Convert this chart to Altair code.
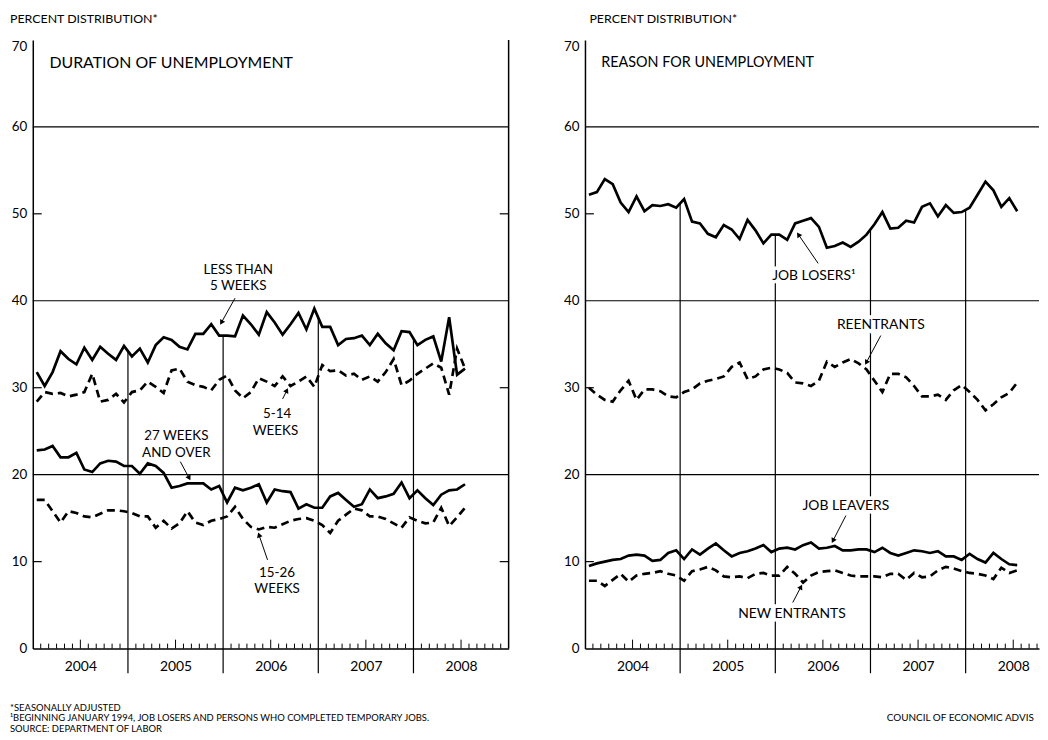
import math
import altair as alt
import pandas as pd

FONT = "Lato"

# ---------------- data (monthly, Jan 2004 - Jul 2008) ----------------
less_than_5 = [31.8, 30.2, 31.8, 34.2, 33.3, 32.7, 34.6, 33.2, 34.7, 33.9, 33.2, 34.8,
               33.6, 34.5, 32.9, 34.9, 35.8, 35.5, 34.7, 34.4, 36.2, 36.2, 37.3, 36.0,
               36.0, 35.9, 38.3, 37.3, 36.1, 38.7, 37.5, 36.1, 37.3, 38.6, 36.7, 39.1,
               37.0, 37.0, 34.9, 35.6, 35.7, 36.0, 34.9, 36.2, 35.1, 34.3, 36.5, 36.4,
               34.9, 35.5, 35.9, 33.0, 38.1, 31.5, 32.2]
weeks_5_14 = [28.4, 29.5, 29.3, 29.4, 29.0, 29.2, 29.5, 31.6, 28.4, 28.6, 29.3, 28.3,
              29.5, 29.7, 30.7, 30.1, 29.4, 32.0, 32.2, 30.7, 30.3, 30.1, 29.7, 30.9,
              31.4, 29.7, 28.8, 29.5, 31.1, 30.7, 30.2, 31.3, 30.2, 30.7, 31.3, 30.1,
              32.6, 31.9, 32.0, 31.4, 31.6, 30.9, 31.3, 30.7, 31.8, 33.3, 30.3, 30.8,
              31.6, 32.2, 32.8, 32.3, 29.2, 34.5, 32.2]
weeks_27_over = [22.8, 22.9, 23.3, 22.0, 22.0, 22.5, 20.6, 20.3, 21.3, 21.6, 21.5, 21.0,
                 21.0, 20.1, 21.3, 21.0, 20.2, 18.5, 18.7, 19.0, 19.0, 19.0, 18.3, 18.7,
                 16.8, 18.5, 18.2, 18.5, 18.9, 16.8, 18.3, 18.1, 18.0, 16.1, 16.6, 16.2,
                 16.2, 17.5, 17.9, 17.1, 16.3, 16.6, 18.3, 17.3, 17.5, 17.8, 19.1, 17.3,
                 18.2, 17.3, 16.5, 17.7, 18.2, 18.3, 18.9]
weeks_15_26 = [17.1, 17.1, 15.8, 14.5, 15.8, 15.6, 15.2, 15.1, 15.5, 15.9, 15.9, 15.8,
               15.6, 15.2, 15.2, 13.9, 14.7, 13.8, 14.4, 15.8, 14.5, 14.2, 14.7, 14.9,
               15.2, 16.3, 14.9, 14.0, 13.7, 14.0, 13.9, 14.3, 14.7, 14.9, 15.0, 14.7,
               14.2, 13.3, 14.7, 15.4, 16.1, 15.9, 15.2, 15.2, 14.9, 14.4, 13.9, 15.1,
               14.7, 14.4, 14.5, 16.2, 14.1, 15.1, 16.2]

job_losers = [52.2, 52.5, 54.0, 53.4, 51.3, 50.2, 52.0, 50.3, 51.0, 50.9, 51.1, 50.7,
              51.7, 49.1, 48.9, 47.7, 47.3, 48.7, 48.2, 47.1, 49.3, 48.1, 46.6, 47.6,
              47.6, 47.0, 48.9, 49.2, 49.5, 48.5, 46.1, 46.3, 46.7, 46.2, 46.8, 47.6,
              48.8, 50.2, 48.3, 48.4, 49.2, 49.0, 50.8, 51.2, 49.7, 51.0, 50.1, 50.2,
              50.7, 52.2, 53.7, 52.7, 50.8, 51.8, 50.3]
reentrants = [30.0, 29.2, 28.6, 28.4, 29.7, 30.8, 28.6, 29.8, 29.8, 29.6, 29.0, 28.9,
              29.5, 29.8, 30.5, 30.8, 31.0, 31.3, 32.4, 32.9, 31.0, 31.3, 32.1, 32.3,
              32.1, 31.7, 30.6, 30.5, 30.2, 30.8, 33.0, 32.4, 32.9, 33.3, 32.8, 32.1,
              30.8, 29.5, 31.6, 31.6, 31.2, 30.2, 29.0, 29.0, 29.2, 28.6, 29.7, 30.3,
              29.5, 28.6, 27.4, 28.1, 28.9, 29.4, 30.6]
job_leavers = [9.5, 9.8, 10.0, 10.2, 10.3, 10.7, 10.8, 10.7, 10.1, 10.2, 11.0, 11.3,
               10.3, 11.4, 10.8, 11.5, 12.1, 11.3, 10.6, 11.0, 11.2, 11.5, 11.9, 11.1,
               11.5, 11.6, 11.4, 11.9, 12.2, 11.5, 11.6, 11.8, 11.3, 11.3, 11.4, 11.4,
               11.1, 11.6, 11.0, 10.7, 11.0, 11.3, 11.2, 11.0, 11.2, 10.6, 10.6, 10.2,
               10.9, 10.3, 9.9, 11.0, 10.3, 9.7, 9.6]
new_entrants = [7.8, 7.8, 7.2, 7.9, 8.6, 7.7, 8.4, 8.6, 8.7, 8.9, 8.6, 8.4,
                7.8, 8.9, 9.1, 9.4, 9.0, 8.3, 8.2, 8.3, 8.1, 8.6, 8.7, 8.4,
                8.4, 9.4, 8.6, 7.6, 8.4, 8.8, 8.9, 9.0, 8.7, 8.4, 8.3, 8.3,
                8.3, 8.2, 8.6, 8.6, 7.9, 8.7, 8.2, 8.3, 9.0, 9.4, 9.2, 8.9,
                8.7, 8.6, 8.4, 8.0, 9.3, 8.7, 9.0]

years = [2004, 2005, 2006, 2007, 2008]
y_tick_values = [0, 10, 20, 30, 40, 50, 60, 70]
grid_values = [20, 40, 60]
inner_tick_values = [10, 30, 50]

# labels: (text, month position, value, align, size)
left_labels = [
    ("DURATION OF UNEMPLOYMENT", 2.1, 67.3, "left", 16),
    ("LESS THAN", 25.9, 43.5, "center", 13.5),
    ("5 WEEKS", 25.9, 41.7, "center", 13.5),
    ("5-14", 30.8, 27.0, "center", 13.5),
    ("WEEKS", 30.6, 25.0, "center", 13.5),
    ("27 WEEKS", 18.1, 24.5, "center", 13.5),
    ("AND OVER", 18.1, 22.5, "center", 13.5),
    ("15-26", 30.8, 8.7, "center", 13.5),
    ("WEEKS", 30.8, 6.8, "center", 13.5),
]
right_labels = [
    ("REASON FOR UNEMPLOYMENT", 2.06, 67.3, "left", 14.5),
    ("JOB LOSERS¹", 23.6, 42.8, "left", 14),
    ("REENTRANTS", 37.3, 37.2, "center", 14),
    ("JOB LEAVERS", 32.9, 16.4, "center", 14),
    ("NEW  ENTRANTS", 26.1, 4.0, "center", 14),
]
# arrows: (tail month, tail value, tip month, tip value)
left_arrows = [(25.5, 40.3, 23.6, 37.2), (31.5, 28.7, 32.2, 30.0),
               (18.6, 21.5, 19.9, 19.3), (29.6, 10.2, 28.4, 13.4)]
right_arrows = [(29.4, 44.3, 26.7, 47.9), (37.3, 36.0, 35.3, 32.6),
                (32.9, 15.3, 31.1, 12.1), (26.2, 5.3, 27.4, 7.4)]

heading = "PERCENT DISTRIBUTION*"
footnotes = ["*SEASONALLY ADJUSTED",
             "¹BEGINNING JANUARY 1994, JOB LOSERS AND PERSONS WHO COMPLETED TEMPORARY JOBS.",
             "SOURCE: DEPARTMENT OF LABOR"]
credit = "COUNCIL OF ECONOMIC ADVISERS"

# ---------------- layout ----------------
H = 614
PXM = 8.0
PXV = H / 70.0


def series_df(values, name):
    return pd.DataFrame({"m": [i + 0.5 for i in range(len(values))], "v": values, "s": name})


def pixel_text(text, x, y, size, align="left", limit=None):
    kw = dict(align=align, baseline="middle", fontSize=size, color="black", font=FONT)
    if limit is not None:
        kw["limit"] = limit
        kw["ellipsis"] = " "
    return alt.Chart(pd.DataFrame({"t": [text]})).mark_text(**kw).encode(
        x=alt.value(x), y=alt.value(y), text="t:N")


def panel(solid, dashed, top_series, labels, arrows, xmax, width, border, heading_x, extra=None):
    xs = alt.Scale(domain=[0, xmax], nice=False, zero=False)
    ys = alt.Scale(domain=[0, 70], nice=False, zero=True)
    x_axis = alt.Axis(values=[12 * k + 6 for k in range(len(years)) if 12 * k + 6 < xmax],
                      labelExpr="toString(2004 + floor(datum.value / 12))",
                      ticks=False, grid=False, title=None, domainColor="black", domainWidth=1.5,
                      labelFontSize=14, labelPadding=11, labelColor="black", labelFont=FONT)
    y_axis = alt.Axis(values=y_tick_values, ticks=False, grid=False, title=None,
                      domainColor="black", domainWidth=1.5, labelFontSize=13.5, labelPadding=6,
                      labelColor="black", labelFont=FONT,
                      labelBaseline={"condition": {"test": "datum.value == 70", "value": "top"},
                                     "value": "middle"})

    def X(f="m"):
        return alt.X(f"{f}:Q", scale=xs, axis=x_axis)

    def Y(f="v"):
        return alt.Y(f"{f}:Q", scale=ys, axis=y_axis)

    layers = []
    grid = alt.Chart(pd.DataFrame({"v": grid_values})).mark_rule(color="black", strokeWidth=1.2).encode(y=Y())
    layers.append(grid)
    lt = alt.Chart(pd.DataFrame({"v": inner_tick_values})).mark_rule(color="black", strokeWidth=1.2).encode(
        y=Y(), x=alt.value(0), x2=alt.value(9))
    layers.append(lt)
    if border:
        bd = alt.Chart(pd.DataFrame({"m": [xmax], "v": [0], "v2": [70]})).mark_rule(
            color="black", strokeWidth=1.5).encode(x=X(), y=Y(), y2="v2:Q")
        rt = alt.Chart(pd.DataFrame({"v": inner_tick_values})).mark_rule(color="black", strokeWidth=1.2).encode(
            y=Y(), x=alt.value(width - 9), x2=alt.value(width))
        layers += [bd, rt]
    # month ticks
    short = [k for k in range(1, int(xmax) + 1) if k % 12 not in (0, 6) and k < xmax]
    tall = [k for k in range(1, int(xmax) + 1) if k % 12 == 6 and k < xmax]
    layers.append(alt.Chart(pd.DataFrame({"m": short})).mark_rule(color="black", strokeWidth=1).encode(
        x=X(), y=alt.value(H), y2=alt.value(H - 5)))
    layers.append(alt.Chart(pd.DataFrame({"m": tall})).mark_rule(color="black", strokeWidth=1).encode(
        x=X(), y=alt.value(H), y2=alt.value(H - 9)))
    # year boundary lines up to the top series
    bm = [12 * k for k in range(1, len(years)) if 12 * k < xmax]
    tops = [(top_series[m - 1] + top_series[m]) / 2 for m in bm]
    layers.append(alt.Chart(pd.DataFrame({"m": bm, "v": [-2.85] * len(bm), "v2": tops})).mark_rule(
        color="black", strokeWidth=1.2).encode(x=X(), y=Y(), y2="v2:Q"))
    # series
    sdf = pd.concat([series_df(v, n) for n, v in solid])
    ddf = pd.concat([series_df(v, n) for n, v in dashed])
    layers.append(alt.Chart(sdf).mark_line(color="black", strokeWidth=2.7, strokeJoin="miter").encode(
        x=X(), y=Y(), detail="s:N"))
    layers.append(alt.Chart(ddf).mark_line(color="black", strokeWidth=2.7, strokeDash=[8, 5]).encode(
        x=X(), y=Y(), detail="s:N"))
    # labels with white halo
    for (t, m, v, al, sz) in labels:
        d = pd.DataFrame({"m": [m], "v": [v], "t": [t]})
        layers.append(alt.Chart(d).mark_text(align=al, baseline="middle", fontSize=sz, font=FONT,
                                             color="white", stroke="white", strokeWidth=7).encode(
            x=X(), y=Y(), text="t:N"))
        layers.append(alt.Chart(d).mark_text(align=al, baseline="middle", fontSize=sz, font=FONT,
                                             color="black").encode(x=X(), y=Y(), text="t:N"))
    # arrows
    rows = []
    for (m1, v1, m2, v2) in arrows:
        dx = (m2 - m1) * PXM
        dy = -(v2 - v1) * PXV
        L = math.hypot(dx, dy)
        ux, uy = dx / L, dy / L
        ang = math.degrees(math.atan2(ux, -uy)) % 360
        hm = m2 - ux * 3 / PXM
        hv = v2 + uy * 3 / PXV
        rows.append({"m": m1, "v": v1, "m2": hm, "v2": hv, "ang": ang})
    adf = pd.DataFrame(rows)
    layers.append(alt.Chart(adf).mark_rule(color="black", strokeWidth=1).encode(
        x=X(), y=Y(), x2="m2:Q", y2="v2:Q"))
    layers.append(alt.Chart(adf).mark_point(shape="triangle-up", filled=True, size=34, color="black",
                                            opacity=1).encode(
        x=X("m2"), y=Y("v2"), angle=alt.Angle("ang:Q", scale=None)))
    # heading
    layers.append(pixel_text(heading, heading_x, -21, 12.5))
    if extra:
        layers += extra
    return alt.layer(*layers).properties(width=width, height=H)


left_extra = [pixel_text(footnotes[i], -23, H + 60 + 10.5 * i, 9.5) for i in range(3)]
right_extra = [pixel_text(credit, 304.5, H + 70, 10, limit=157)]

left = panel([("lt5", less_than_5), ("27", weeks_27_over)],
             [("5-14", weeks_5_14), ("15-26", weeks_15_26)],
             less_than_5, left_labels, left_arrows, 60, 480, True, -23, left_extra)
right = panel([("losers", job_losers), ("leavers", job_leavers)],
              [("reent", reentrants), ("new", new_entrants)],
              job_losers, right_labels, right_arrows, 57.25, 458, False, 4.5, right_extra)

chart = alt.hconcat(left, right, spacing=54).properties(
    padding={"left": 2, "top": 2, "right": 0, "bottom": 0}
).configure(font=FONT, background="white").configure_view(stroke=None)

chart.save("out.html", embed_options={"renderer": "svg", "actions": False})
